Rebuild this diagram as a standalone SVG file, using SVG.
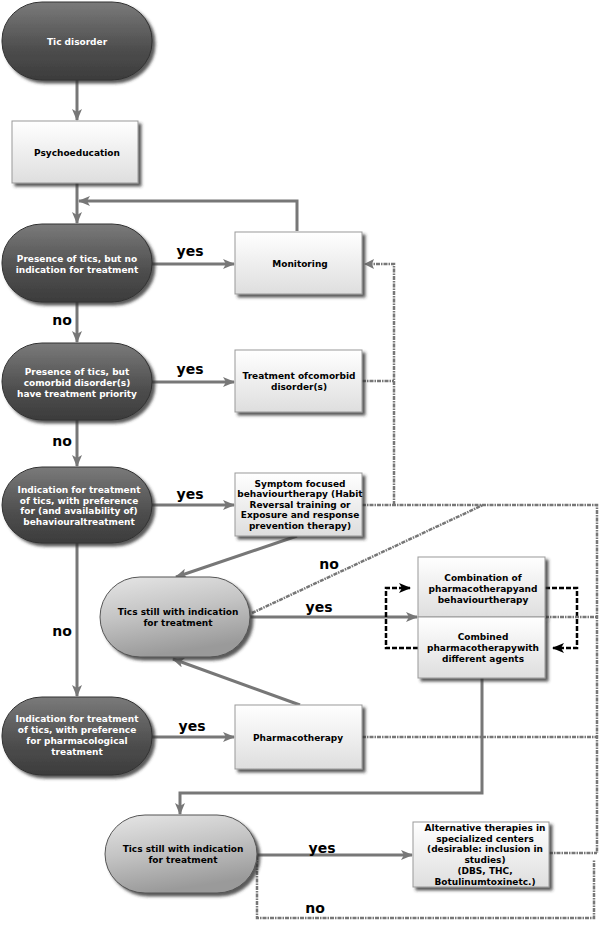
<svg xmlns="http://www.w3.org/2000/svg" width="600" height="925" viewBox="0 0 600 925">
<defs>
<linearGradient id="gDark" x1="0" y1="0" x2="0" y2="1">
<stop offset="0" stop-color="#7a7a7a"/><stop offset="0.6" stop-color="#4e4e4e"/><stop offset="1" stop-color="#3c3c3c"/>
</linearGradient>
<linearGradient id="gLight" x1="0" y1="0" x2="0.3" y2="1">
<stop offset="0" stop-color="#e6e6e6"/><stop offset="0.5" stop-color="#c4c4c4"/><stop offset="1" stop-color="#9a9a9a"/>
</linearGradient>
<linearGradient id="gBox" x1="0" y1="0" x2="0" y2="1">
<stop offset="0" stop-color="#ffffff"/><stop offset="1" stop-color="#dedede"/>
</linearGradient>
<filter id="sh" x="-10%" y="-10%" width="130%" height="130%">
<feDropShadow dx="3" dy="3" stdDeviation="1.5" flood-color="#333" flood-opacity="0.8"/>
</filter>
<marker id="ah" viewBox="0 0 12 10" refX="11" refY="5" markerWidth="12" markerHeight="10" markerUnits="userSpaceOnUse" orient="auto">
<path d="M0,0 L12,5 L0,10 L3,5 z" fill="#777"/>
</marker>
<marker id="ahk" viewBox="0 0 12 10" refX="11" refY="5" markerWidth="12" markerHeight="10" markerUnits="userSpaceOnUse" orient="auto">
<path d="M0,0 L12,5 L0,10 L3,5 z" fill="#000"/>
</marker>
<style>
.dk{fill:url(#gDark);stroke:#333;stroke-width:1;filter:url(#sh)}
.lt{fill:url(#gLight);stroke:#555;stroke-width:1;filter:url(#sh)}
.bx{fill:url(#gBox);stroke:#999;stroke-width:1;filter:url(#sh)}
.tw{font-family:"DejaVu Sans",Verdana,sans-serif;font-weight:bold;font-size:9px;fill:#fff;text-anchor:middle}
.tb{font-family:"DejaVu Sans",Verdana,sans-serif;font-weight:bold;font-size:9px;fill:#000;text-anchor:middle}
.lb{font-family:"DejaVu Sans",Verdana,sans-serif;font-weight:bold;font-size:14px;fill:#000;text-anchor:middle}
.ar{fill:none;stroke:#777;stroke-width:3;marker-end:url(#ah)}
.dt{fill:none;stroke:#777;stroke-width:2.5;stroke-dasharray:4 1 1.5 1}
.dk2{fill:none;stroke:#000;stroke-width:2.5;stroke-dasharray:5 2}
</style>
</defs>
<rect width="600" height="925" fill="#fff"/>

<g id="connectors">
<path class="ar" d="M77,80 V120"/>
<path class="ar" d="M77,183 V223"/>
<path class="ar" d="M297,231 V201 H79"/>
<path class="ar" d="M152,264 H234"/>
<path class="ar" d="M77,302 V342"/>
<path class="ar" d="M152,382 H234"/>
<path class="ar" d="M77,420 V466"/>
<path class="ar" d="M152,505 H234"/>
<path class="ar" d="M297,536 L176,577"/>
<path class="ar" d="M77,543 V696"/>
<path class="ar" d="M152,737 H234"/>
<path class="ar" d="M300,705 L173,659"/>
<path class="ar" d="M250,617 H417"/>
<path class="ar" d="M482,678 V793 H180 V814"/>
<path class="ar" d="M257,855 H412"/>
<path class="dk2" d="M418,648 H386 V588 H410" marker-end="url(#ahk)"/>
<path class="dk2" d="M545,588 H577 V648 H553" marker-end="url(#ahk)"/>
<path class="dt" d="M362,381 H394"/>
<path class="dt" d="M394,505 V264 H372"/>
<path d="M364,264 L374,259 L372,264 L374,269 z" fill="#777"/>
<path class="dt" d="M362,505 H597 V853"/>
<path class="dt" d="M549,853 H597"/>
<path class="dt" d="M257,856 V918 H594 V860"/>
<path class="dt" d="M252,613 L483,505"/>
<path class="dt" d="M545,617 H597"/>
<path class="dt" d="M362,737 H597"/>
<text class="lb" x="190" y="256">yes</text>
<text class="lb" x="62" y="325">no</text>
<text class="lb" x="190" y="374">yes</text>
<text class="lb" x="62" y="446">no</text>
<text class="lb" x="190" y="499">yes</text>
<text class="lb" x="329" y="569">no</text>
<text class="lb" x="319" y="612">yes</text>
<text class="lb" x="62" y="636">no</text>
<text class="lb" x="192" y="731">yes</text>
<text class="lb" x="322" y="853">yes</text>
<text class="lb" x="315" y="913">no</text>
</g>

<g id="n1"><rect class="dk" x="2" y="2" width="150" height="78" rx="40" ry="38"/><text class="tw" x="77" y="45">Tic disorder</text></g>
<g id="n2"><rect class="bx" x="12" y="121" width="126" height="62"/><text class="tb" x="77" y="156">Psychoeducation</text></g>
<g id="n3"><rect class="dk" x="2" y="224" width="150" height="78" rx="40" ry="38"/><text class="tw" x="77" y="262">Presence of tics, but no</text><text class="tw" x="77" y="273">indication for treatment</text></g>
<g id="n4"><rect class="bx" x="235" y="232" width="127" height="62"/><text class="tb" x="300" y="267">Monitoring</text></g>
<g id="n5"><rect class="dk" x="2" y="343" width="150" height="77" rx="40" ry="38"/><text class="tw" x="77" y="375">Presence of tics, but</text><text class="tw" x="77" y="386">comorbid disorder(s)</text><text class="tw" x="77" y="397">have treatment priority</text></g>
<g id="n6"><rect class="bx" x="235" y="350" width="127" height="62"/><text class="tb" x="299" y="379">Treatment ofcomorbid</text><text class="tb" x="299" y="390">disorder(s)</text></g>
<g id="n7"><rect class="dk" x="2" y="467" width="150" height="76" rx="40" ry="38"/><text class="tw" x="79" y="493">Indication for treatment</text><text class="tw" x="79" y="504">of tics, with preference</text><text class="tw" x="79" y="514">for (and availability of)</text><text class="tw" x="79" y="525">behaviouraltreatment</text></g>
<g id="n8"><rect class="bx" x="235" y="473" width="127" height="63"/><text class="tb" x="300" y="487">Symptom focused</text><text class="tb" x="300" y="497">behaviourtherapy (Habit</text><text class="tb" x="300" y="508">Reversal training or</text><text class="tb" x="300" y="518">Exposure and response</text><text class="tb" x="300" y="529">prevention therapy)</text></g>
<g id="n9"><rect class="lt" x="100" y="577" width="150" height="80" rx="40" ry="40"/><text class="tb" x="178" y="615">Tics still with indication</text><text class="tb" x="178" y="626">for treatment</text></g>
<g id="n10"><rect class="bx" x="418" y="557" width="127" height="60"/><text class="tb" x="483" y="581">Combination of</text><text class="tb" x="483" y="592">pharmacotherapyand</text><text class="tb" x="483" y="603">behaviourtherapy</text></g>
<g id="n11"><rect class="bx" x="418" y="617" width="127" height="61"/><text class="tb" x="483" y="640">Combined</text><text class="tb" x="483" y="651">pharmacotherapywith</text><text class="tb" x="483" y="662">different agents</text></g>
<g id="n12"><rect class="dk" x="2" y="697" width="150" height="78" rx="40" ry="38"/><text class="tw" x="77" y="722">Indication for treatment</text><text class="tw" x="77" y="733">of tics, with preference</text><text class="tw" x="77" y="744">for pharmacological</text><text class="tw" x="77" y="755">treatment</text></g>
<g id="n13"><rect class="bx" x="235" y="705" width="127" height="64"/><text class="tb" x="298" y="741">Pharmacotherapy</text></g>
<g id="n14"><rect class="lt" x="105" y="815" width="152" height="78" rx="40" ry="39"/><text class="tb" x="183" y="852">Tics still with indication</text><text class="tb" x="183" y="863">for treatment</text></g>
<g id="n15"><rect class="bx" x="413" y="822" width="136" height="65"/><text class="tb" x="485" y="831">Alternative therapies in</text><text class="tb" x="485" y="842">specialized centers</text><text class="tb" x="485" y="852">(desirable: inclusion in</text><text class="tb" x="485" y="863">studies)</text><text class="tb" x="485" y="874">(DBS, THC,</text><text class="tb" x="485" y="885">Botulinumtoxinetc.)</text></g>
</svg>
